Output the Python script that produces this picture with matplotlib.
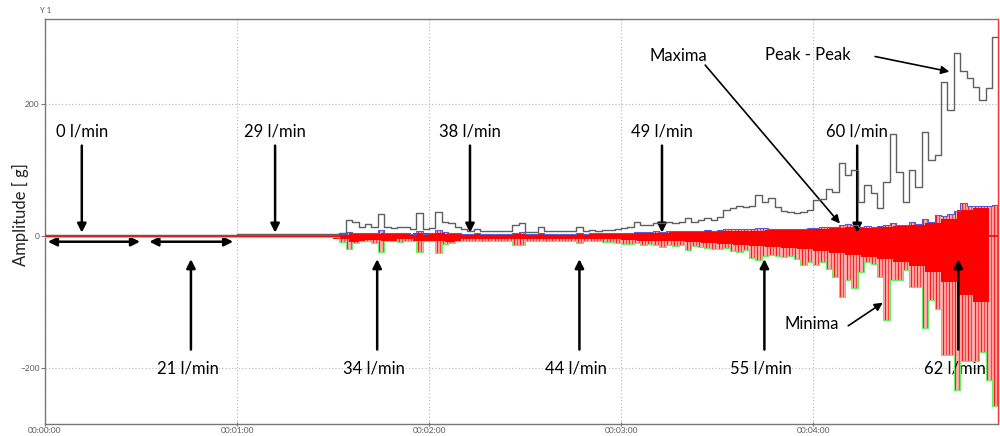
import numpy as np
import matplotlib
matplotlib.use("Agg")
import matplotlib.pyplot as plt
import matplotlib.ticker as ticker

# Vibration record: envelope values sampled every 2 s (amplitude in g)
t_env = np.arange(0, 300, 2)

peak_peak = [
    1, 1, 1, 1, 1, 1, 1, 1, 1, 1,
    1, 1, 1, 1, 1, 2, 1, 1, 1, 1,
    1, 2, 1, 1, 1, 1, 1, 1, 1, 1,
    3, 3, 3, 3, 3, 3, 3, 3, 3, 3,
    3, 3, 3, 3, 3, 3, 5, 24, 22, 14,
    18, 14, 33, 13, 12, 14, 14, 10, 35, 10,
    12, 36, 22, 20, 13, 10, 8, 11, 8, 8,
    8, 7, 8, 16, 20, 6, 6, 13, 8, 7,
    7, 7, 8, 13, 8, 9, 8, 9, 9, 10,
    12, 14, 21, 17, 17, 20, 19, 21, 20, 22,
    27, 21, 24, 27, 25, 29, 39, 42, 45, 44,
    46, 62, 52, 57, 44, 38, 36, 35, 37, 39,
    55, 56, 72, 67, 110, 92, 100, 52, 77, 65,
    42, 82, 155, 97, 52, 100, 75, 158, 115, 123,
    234, 191, 277, 250, 240, 226, 206, 225, 302, 236,
]

maxima = [
    1, 1, 1, 1, 1, 1, 1, 1, 1, 1,
    1, 1, 1, 1, 1, 1, 1, 1, 1, 1,
    1, 1, 1, 1, 1, 1, 1, 1, 1, 1,
    2, 2, 2, 2, 2, 2, 2, 2, 2, 2,
    2, 2, 2, 2, 2, 2, 3, 6, 5, 4,
    5, 4, 9, 4, 4, 4, 4, 3, 7, 3,
    4, 9, 6, 5, 4, 3, 3, 4, 3, 3,
    3, 3, 3, 5, 6, 3, 3, 4, 3, 3,
    3, 3, 3, 5, 3, 4, 4, 4, 4, 5,
    5, 5, 6, 6, 6, 7, 6, 7, 7, 8,
    8, 7, 8, 9, 8, 9, 10, 10, 11, 10,
    11, 12, 12, 11, 11, 10, 10, 11, 11, 12,
    12, 13, 14, 14, 17, 18, 16, 14, 15, 14,
    15, 16, 20, 17, 16, 21, 18, 26, 22, 32,
    30, 33, 38, 50, 45, 46, 45, 46, 47, 47,
]

minima = [
    -1, -1, -1, -1, -1, -1, -1, -1, -1, -1,
    -1, -1, -1, -1, -1, -1, -1, -1, -1, -1,
    -1, -1, -1, -1, -1, -1, -1, -1, -1, -1,
    -2, -2, -2, -2, -2, -2, -2, -2, -2, -2,
    -2, -2, -2, -2, -2, -2, -9, -19, -10, -8,
    -8, -10, -24, -8, -8, -9, -8, -7, -24, -8,
    -7, -26, -12, -10, -8, -7, -7, -7, -7, -7,
    -7, -7, -7, -13, -13, -7, -7, -8, -7, -7,
    -7, -7, -7, -11, -8, -8, -8, -9, -9, -10,
    -12, -12, -11, -13, -12, -14, -16, -13, -15, -14,
    -21, -15, -16, -18, -20, -20, -18, -22, -24, -21,
    -34, -36, -30, -28, -30, -32, -30, -35, -44, -40,
    -44, -40, -50, -62, -92, -67, -79, -55, -40, -42,
    -62, -127, -67, -67, -52, -77, -77, -140, -97, -110,
    -180, -180, -233, -190, -190, -190, -175, -218, -258, -190,
]

# Dense part of the raw signal, every 5 s
t_core = np.arange(0, 300, 5)
core_hi = [1] * 18 + [
    2, 4, 3, 4, 3, 4, 4, 3, 3, 3,
    3, 3, 3, 3, 3, 3, 3, 4, 4, 5,
    5, 6, 6, 7, 7, 8, 8, 9, 9, 10,
    10, 12, 13, 12, 14, 15, 16, 20, 26, 40,
    42, 44]
core_lo = [-1] * 18 + [
    -4, -9, -6, -8, -5, -7, -8, -9, -4, -5,
    -4, -4, -5, -4, -4, -4, -5, -5, -6, -7,
    -7, -8, -9, -10, -12, -14, -15, -17, -18, -20,
    -22, -26, -28, -32, -35, -40, -45, -55, -70, -90,
    -100, -110]

# Flow rate labels: (text, x of arrow in s, arrow points down?)
flow_labels = [("0 l/min", 11.5, True), ("21 l/min", 45.6, False),
               ("29 l/min", 71.9, True), ("34 l/min", 103.8, False),
               ("38 l/min", 132.8, True), ("44 l/min", 167.0, False),
               ("49 l/min", 192.8, True), ("55 l/min", 224.8, False),
               ("60 l/min", 253.8, True), ("62 l/min", 285.4, False)]

plt.rcParams['font.family'] = ['Lato', 'DejaVu Sans']
fsize = 12

# Geometry of the figure
fig = plt.figure(figsize=(10, 4.36), dpi=100)
ax = fig.add_axes([0.045, 0.0275, 0.953, 0.9289])

# Raw signal (red): spikes out to the envelopes plus its dense core
ax.fill_between(t_env, minima, maxima, step='post', color='#ffb4b4', lw=0, zorder=2)
ax.vlines(t_env + 0.5, minima, maxima, color='#ff1a1a', lw=0.9, zorder=3)
ax.vlines(t_env + 1.5, minima, maxima, color='#ff4040', lw=0.9, zorder=3)
ax.fill_between(t_core, core_lo, core_hi, step='post', color='#ff0000', lw=0, zorder=3)
ax.axhline(0, color='#ff0000', lw=1.2, zorder=3)

# Envelopes
ax.step(t_env, maxima, where='post', color='#5a5ad2', lw=0.8, zorder=4)
ax.step(t_env, minima, where='post', color='#66ee66', lw=0.8, zorder=4)
ax.step(t_env, peak_peak, where='post', color='#5f5f5f', lw=1.0, zorder=5)

# Axis limits and grid
ax.set_xlim(0, 297.8)
ax.set_ylim(-284.8, 328.8)
ax.set_yticks([-200, 0, 200])
ax.set_xticks(np.arange(0, 300, 60))
ax.xaxis.set_major_formatter(ticker.FuncFormatter(
    lambda s, pos: '00:%02d:%02d' % (int(s) // 60, int(s) % 60)))
ax.grid(True, color='#b4b4b4', linestyle=(0, (1, 2)), lw=0.8, zorder=0)
ax.tick_params(labelsize=6, labelcolor='#555555', color='#777777',
               length=3, width=0.8)
ax.tick_params(axis='x', direction='inout', pad=1)
ax.tick_params(axis='y', pad=1)
for side in ['left', 'bottom', 'top']:
    ax.spines[side].set_color('#777777')
    ax.spines[side].set_linewidth(1.0)
ax.spines['right'].set_color('#ff3030')
ax.spines['right'].set_linewidth(1.0)

fig.text(0.02, 0.507, 'Amplitude [ g]', rotation=90, fontsize=fsize,
         ha='center', va='center', color='#222222')
fig.text(0.046, 0.975, 'Y 1', fontsize=5.5, color='#555555', ha='center', va='center')

# Flow rate markers
arrow = dict(arrowstyle='-|>', color='black', lw=1.8, mutation_scale=13,
             shrinkA=0, shrinkB=0)
for text, xa, down in flow_labels:
    if down:
        ax.text(xa, 159, text, fontsize=fsize, ha='center', va='center')
        ax.annotate('', xy=(xa, 5), xytext=(xa, 137), arrowprops=arrow)
    else:
        ax.text(xa - 1, -200, text, fontsize=fsize, ha='center', va='center')
        ax.annotate('', xy=(xa, -35), xytext=(xa, -172), arrowprops=arrow)

double = dict(arrowstyle='<|-|>', color='black', lw=1.8, mutation_scale=13,
              shrinkA=0, shrinkB=0)
ax.annotate('', xy=(0.9, -8.6), xytext=(29.7, -8.6), arrowprops=double)
ax.annotate('', xy=(32.6, -8.6), xytext=(58.8, -8.6), arrowprops=double)

# Envelope labels
thin = dict(arrowstyle='-|>', color='black', lw=1.2, mutation_scale=12,
            shrinkA=0, shrinkB=0)
ax.text(198, 272, 'Maxima', fontsize=fsize, ha='center', va='center')
ax.annotate('', xy=(248.4, 19), xytext=(206.3, 259), arrowprops=thin)
ax.text(238.3, 274, 'Peak - Peak', fontsize=fsize, ha='center', va='center')
ax.annotate('', xy=(282.6, 249), xytext=(259.4, 272), arrowprops=thin)
ax.text(239.6, -134, 'Minima', fontsize=fsize, ha='center', va='center')
ax.annotate('', xy=(261.8, -101), xytext=(251, -136), arrowprops=thin)

fig.savefig('out.png', dpi=100)
